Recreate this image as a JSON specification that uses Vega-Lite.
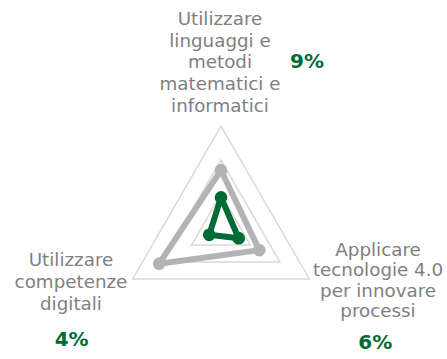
{
  "$schema": "https://vega.github.io/schema/vega-lite/v6.json",
  "width": 447,
  "height": 359,
  "padding": 0,
  "autosize": {"type": "none"},
  "background": "white",
  "config": {"view": {"stroke": null}},
  "datasets": {
    "series": [
      {"serie": "Totale", "k": 0, "v": 17},
      {"serie": "Totale", "k": 1, "v": 13},
      {"serie": "Totale", "k": 2, "v": 21},
      {"serie": "Focus", "k": 0, "v": 9},
      {"serie": "Focus", "k": 1, "v": 6},
      {"serie": "Focus", "k": 2, "v": 4}
    ],
    "grid": [
      {"level": 10, "k": 0}, {"level": 10, "k": 1}, {"level": 10, "k": 2},
      {"level": 20, "k": 0}, {"level": 20, "k": 1}, {"level": 20, "k": 2},
      {"level": 30, "k": 0}, {"level": 30, "k": 1}, {"level": 30, "k": 2}
    ],
    "axes": [
      {"k": 0, "label": "Utilizzare\nlinguaggi e\nmetodi\nmatematici e\ninformatici", "pct": "9%"},
      {"k": 1, "label": "Applicare\ntecnologie 4.0\nper innovare\nprocessi", "pct": "6%"},
      {"k": 2, "label": "Utilizzare\ncompetenze\ndigitali", "pct": "4%"}
    ]
  },
  "encoding": {
    "x": {"field": "x", "type": "quantitative", "axis": null, "scale": {"domain": [-65, 66.47], "nice": false, "zero": false}},
    "y": {"field": "y", "type": "quantitative", "axis": null, "scale": {"domain": [-38.53, 67.06], "nice": false, "zero": false}}
  },
  "layer": [
    {
      "data": {"name": "grid"},
      "transform": [
        {"calculate": "datum.k * 2 * PI / 3", "as": "a"},
        {"calculate": "datum.level * sin(datum.a)", "as": "x"},
        {"calculate": "datum.level * cos(datum.a)", "as": "y"}
      ],
      "mark": {"type": "line", "interpolate": "linear-closed", "color": "#D9D9D9", "strokeWidth": 1.5},
      "encoding": {
        "detail": {"field": "level", "type": "nominal"},
        "order": {"field": "k", "type": "quantitative"}
      }
    },
    {
      "data": {"name": "series"},
      "transform": [
        {"calculate": "datum.k * 2 * PI / 3", "as": "a"},
        {"calculate": "datum.v * sin(datum.a)", "as": "x"},
        {"calculate": "datum.v * cos(datum.a)", "as": "y"}
      ],
      "layer": [
        {
          "mark": {"type": "line", "interpolate": "linear-closed", "strokeWidth": 6, "strokeJoin": "round"},
          "encoding": {
            "color": {"field": "serie", "type": "nominal", "legend": null, "scale": {"domain": ["Totale", "Focus"], "range": ["#B3B3B5", "#006B37"]}},
            "order": {"field": "k", "type": "quantitative"}
          }
        },
        {
          "mark": {"type": "point", "filled": true, "opacity": 1, "size": 160},
          "encoding": {
            "color": {"field": "serie", "type": "nominal", "legend": null, "scale": {"domain": ["Totale", "Focus"], "range": ["#B3B3B5", "#006B37"]}}
          }
        }
      ]
    },
    {
      "data": {"name": "axes"},
      "transform": [
        {"calculate": "datum.k * 2 * PI / 3", "as": "a"},
        {"calculate": "30 * sin(datum.a)", "as": "x"},
        {"calculate": "30 * cos(datum.a)", "as": "y"}
      ],
      "layer": [
        {
          "transform": [{"filter": "datum.k == 0"}],
          "mark": {"type": "text", "lineBreak": "\n", "lineHeight": 21.7, "font": "DejaVu Sans", "fontSize": 18.3, "color": "#808080", "align": "center", "baseline": "middle", "dx": -1, "dy": -106},
          "encoding": {"text": {"field": "label", "type": "nominal"}}
        },
        {
          "transform": [{"filter": "datum.k == 1"}],
          "mark": {"type": "text", "lineBreak": "\n", "lineHeight": 20.5, "font": "DejaVu Sans", "fontSize": 18.3, "color": "#808080", "align": "center", "baseline": "middle", "dx": 68.7, "dy": -28},
          "encoding": {"text": {"field": "label", "type": "nominal"}}
        },
        {
          "transform": [{"filter": "datum.k == 2"}],
          "mark": {"type": "text", "lineBreak": "\n", "lineHeight": 22, "font": "DejaVu Sans", "fontSize": 18.3, "color": "#808080", "align": "center", "baseline": "middle", "dx": -61.7, "dy": -18},
          "encoding": {"text": {"field": "label", "type": "nominal"}}
        },
        {
          "transform": [{"filter": "datum.k == 0"}],
          "mark": {"type": "text", "font": "DejaVu Sans", "fontWeight": "bold", "fontSize": 20, "color": "#006B37", "align": "center", "baseline": "middle", "dx": 86, "dy": -64.5},
          "encoding": {"text": {"field": "pct", "type": "nominal"}}
        },
        {
          "transform": [{"filter": "datum.k == 1"}],
          "mark": {"type": "text", "font": "DejaVu Sans", "fontWeight": "bold", "fontSize": 20, "color": "#006B37", "align": "center", "baseline": "middle", "dx": 66, "dy": 64},
          "encoding": {"text": {"field": "pct", "type": "nominal"}}
        },
        {
          "transform": [{"filter": "datum.k == 2"}],
          "mark": {"type": "text", "font": "DejaVu Sans", "fontWeight": "bold", "fontSize": 20, "color": "#006B37", "align": "center", "baseline": "middle", "dx": -61, "dy": 61},
          "encoding": {"text": {"field": "pct", "type": "nominal"}}
        }
      ]
    }
  ]
}
